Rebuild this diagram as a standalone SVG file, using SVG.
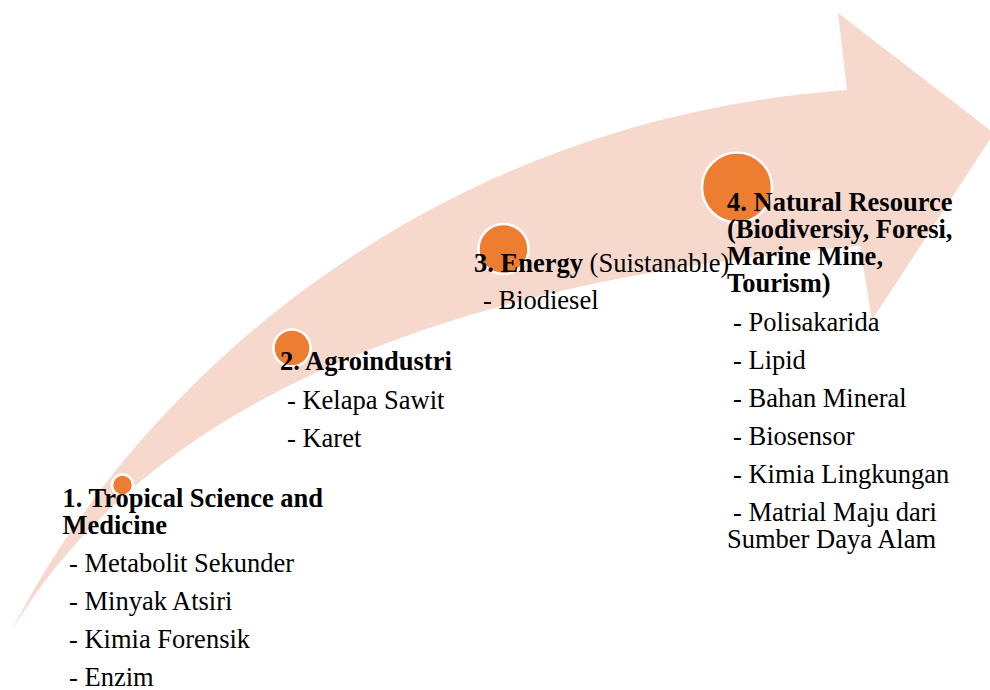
<svg xmlns="http://www.w3.org/2000/svg" width="990" height="690" viewBox="0 0 990 690">
<style>
.band{fill:#F7D8CD;}
.dot{fill:#ED7D31;stroke:#FFFFFF;stroke-width:2.5;}
text{font-family:"Liberation Serif","Times New Roman",serif;font-size:26.5px;fill:#000000;}
.b{font-weight:bold;}
</style>
<rect width="990" height="690" fill="#FFFFFF"/>
<g id="arrow">
<path class="band" d="M12,630 C140,380 430,120 847,90 L838,13 L994,133 L872,320 L860,246 C450,280 150,400 12,630 Z"/>
</g>
<g id="node1">
<circle class="dot" cx="122.5" cy="485" r="10.5"/>
<text class="b" x="62.5" y="507">1. Tropical Science and</text>
<text class="b" x="62.5" y="534">Medicine</text>
<text x="69" y="572">- Metabolit Sekunder</text>
<text x="69" y="610">- Minyak Atsiri</text>
<text x="69" y="648">- Kimia Forensik</text>
<text x="69" y="686">- Enzim</text>
</g>
<g id="node2">
<circle class="dot" cx="292" cy="348" r="18.5"/>
<text class="b" x="280" y="370">2. Agroindustri</text>
<text x="287" y="409">- Kelapa Sawit</text>
<text x="287" y="447">- Karet</text>
</g>
<g id="node3">
<circle class="dot" cx="503.5" cy="249" r="25"/>
<text x="474" y="272"><tspan class="b">3. Energy</tspan> (Suistanable)</text>
<text x="483" y="309">- Biodiesel</text>
</g>
<g id="node4">
<circle class="dot" cx="737" cy="187.5" r="35"/>
<text class="b" x="727" y="211">4. Natural Resource</text>
<text class="b" x="727" y="238">(Biodiversiy, Foresi,</text>
<text class="b" x="727" y="265">Marine Mine,</text>
<text class="b" x="727" y="292">Tourism)</text>
<text x="733" y="331">- Polisakarida</text>
<text x="733" y="369">- Lipid</text>
<text x="733" y="407">- Bahan Mineral</text>
<text x="733" y="445">- Biosensor</text>
<text x="733" y="483">- Kimia Lingkungan</text>
<text x="733" y="521">- Matrial Maju dari</text>
<text x="727" y="548">Sumber Daya Alam</text>
</g>
</svg>
